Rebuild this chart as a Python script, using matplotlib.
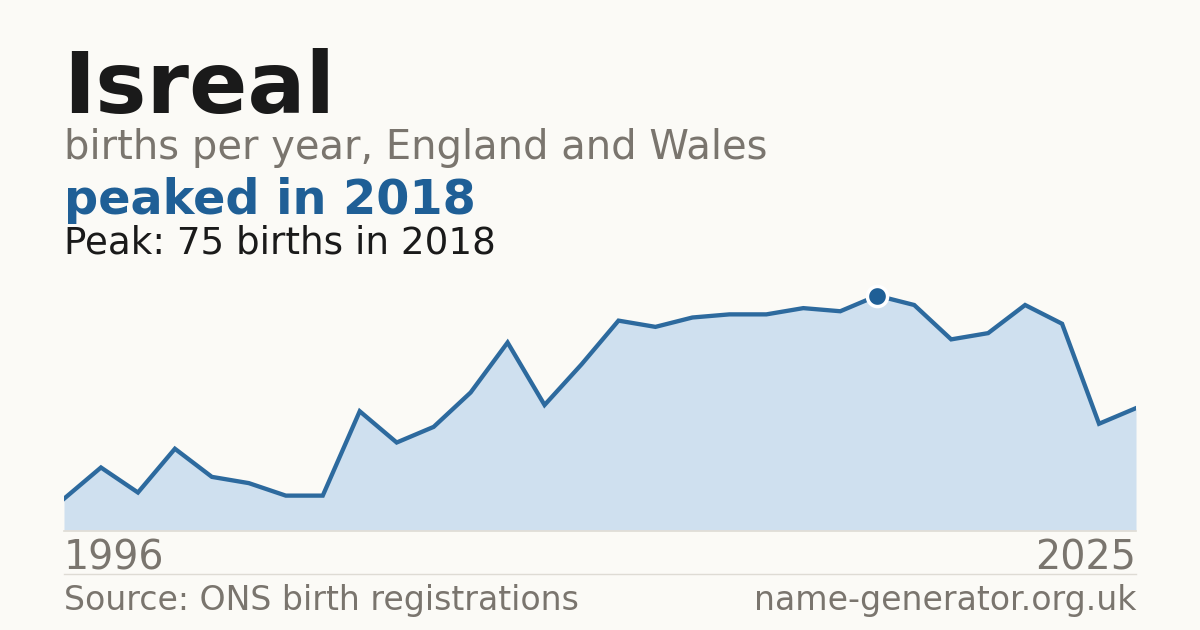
import matplotlib
matplotlib.use("Agg")
import matplotlib.pyplot as plt

years = list(range(1996, 2026))
births = [10, 20, 12, 26, 17, 15, 11, 11, 38, 28, 33, 44, 60, 40, 53,
          67, 65, 68, 69, 69, 71, 70, 75, 72, 61, 63, 72, 66, 34, 39]

title = "Isreal"
subtitle = "births per year, England and Wales"
headline = "peaked in 2018"
peak_text = "Peak: 75 births in 2018"
source = "Source: ONS birth registrations"
site = "name-generator.org.uk"

BG = "#fbfaf6"
DARK = "#1a1a1a"
GRAY = "#7a756e"
BLUE = "#1f5f96"
LINE = "#2d6a9e"
FILL = "#cfe0ef"
RULE = "#dedbd4"

W, H = 1200, 630
fig = plt.figure(figsize=(12, 6.3), dpi=100, facecolor=BG)
plt.rcParams['font.family'] = ['DejaVu Sans']

def fx(px):
    return px / W

def fy(py):
    return (H - py) / H

ax = fig.add_axes([fx(64), fy(530), fx(1136) - fx(64), fy(280) - fy(530)])
ax.set_facecolor(BG)
ax.patch.set_alpha(0)
ax.fill_between(years, births, 0, color=FILL, linewidth=0, zorder=1)
ax.plot(years, births, color=LINE, linewidth=3.1, solid_joinstyle='miter', zorder=2)
pk = births.index(max(births))
ax.plot([years[pk]], [births[pk]], 'o', markersize=14.5, markerfacecolor=BLUE,
        markeredgecolor='white', markeredgewidth=2.5, zorder=3, clip_on=False)
ax.set_xlim(years[0], years[-1])
ax.set_ylim(0, 80)
ax.axis('off')

# rules
fig.add_artist(plt.Line2D([fx(64), fx(1136)], [fy(530.5), fy(530.5)], color=RULE, linewidth=1.2))
fig.add_artist(plt.Line2D([fx(64), fx(1136)], [fy(574), fy(574)], color=RULE, linewidth=1.0))

fig.text(fx(63), fy(113), title, fontsize=62, fontweight='bold', color=DARK, va='baseline', ha='left')
fig.text(fx(64), fy(159), subtitle, fontsize=28.8, color=GRAY, va='baseline', ha='left')
fig.text(fx(64), fy(214), headline, fontsize=34.4, fontweight='bold', color=BLUE, va='baseline', ha='left')
fig.text(fx(64), fy(254), peak_text, fontsize=26.8, color=DARK, va='baseline', ha='left')
fig.text(fx(64), fy(569), str(years[0]), fontsize=28.5, color=GRAY, va='baseline', ha='left')
fig.text(fx(1136), fy(569), str(years[-1]), fontsize=28.5, color=GRAY, va='baseline', ha='right')
fig.text(fx(64), fy(610), source, fontsize=23.9, color=GRAY, va='baseline', ha='left')
fig.text(fx(1136), fy(610), site, fontsize=23.9, color=GRAY, va='baseline', ha='right')

fig.savefig("out.png", dpi=100, facecolor=BG)
